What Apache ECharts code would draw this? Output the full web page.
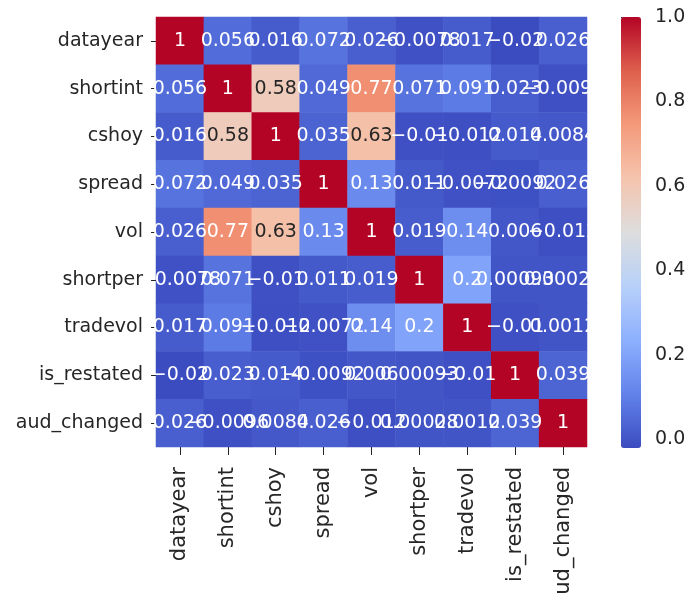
<!DOCTYPE html>
<html>
<head>
<meta charset="utf-8">
<script src="https://cdn.jsdelivr.net/npm/echarts@6/dist/echarts.min.js"></script>
<style>
  html, body { margin: 0; padding: 0; background: #fff; }
  #chart { width: 688px; height: 596px; }
</style>
</head>
<body>
<div id="chart"></div>
<script>
var myChart = echarts.init(document.getElementById('chart'));

// variables, in the order of the rows / columns
var names = ['datayear', 'shortint', 'cshoy', 'spread', 'vol', 'shortper', 'tradevol', 'is_restated', 'aud_changed'];

// correlation rows
var rowDatayear   = [1, 0.056, 0.016, 0.072, 0.026, -0.0078, 0.017, -0.02, 0.026];
var rowShortint   = [0.056, 1, 0.58, 0.049, 0.77, 0.071, 0.091, 0.023, -0.0096];
var rowCshoy      = [0.016, 0.58, 1, 0.035, 0.63, -0.01, -0.012, 0.014, 0.0084];
var rowSpread     = [0.072, 0.049, 0.035, 1, 0.13, 0.011, -0.0072, -0.0092, 0.026];
var rowVol        = [0.026, 0.77, 0.63, 0.13, 1, 0.019, 0.14, 0.006, -0.012];
var rowShortper   = [-0.0078, 0.071, -0.01, 0.011, 0.019, 1, 0.2, 0.00093, 0.00028];
var rowTradevol   = [0.017, 0.091, -0.012, -0.0072, 0.14, 0.2, 1, -0.01, 0.0012];
var rowRestated   = [-0.02, 0.023, 0.014, -0.0092, 0.006, 0.00093, -0.01, 1, 0.039];
var rowAudChanged = [0.026, -0.0096, 0.0084, 0.026, -0.012, 0.00028, 0.0012, 0.039, 1];

var rows = [rowDatayear, rowShortint, rowCshoy, rowSpread, rowVol,
            rowShortper, rowTradevol, rowRestated, rowAudChanged];

// colour bar ticks
var barTicks = [0, 0.2, 0.4, 0.6, 0.8, 1.0];
var vMin = -0.02, vMax = 1;

// coolwarm
var coolwarm = ['#3b4cc0', '#6282ea', '#8db0fe', '#b8d0f9', '#dddddd',
                '#f5c4ad', '#f49a7b', '#de604d', '#b40426'];

var font = 'DejaVu Sans';

var data = [];
rows.forEach(function (row, y) {
    row.forEach(function (v, x) {
        data.push({
            value: [x, y, v],
            label: { color: (v > 0.5 && v < 0.7) ? '#262626' : '#ffffff' }
        });
    });
});

var option = {
    backgroundColor: '#ffffff',
    animation: false,
    grid: [
        { left: 156, top: 17, width: 431, height: 430, outerBoundsMode: 'none' },
        { left: 621, top: 17, width: 20, height: 431, outerBoundsMode: 'none' }
    ],
    xAxis: [{
        type: 'category',
        gridIndex: 0,
        data: names,
        position: 'bottom',
        axisLine: { show: false },
        axisTick: { show: true, alignWithLabel: true, length: 8, lineStyle: { color: '#222' } },
        axisLabel: { rotate: 90, interval: 0, fontFamily: font, fontSize: 21, color: '#262626', margin: 20 },
        splitLine: { show: false }
    }, {
        type: 'value',
        gridIndex: 1,
        show: false
    }],
    yAxis: [{
        type: 'category',
        gridIndex: 0,
        data: names,
        inverse: true,
        axisLine: { show: false },
        axisTick: { show: true, alignWithLabel: true, length: 5, lineStyle: { color: '#222' } },
        axisLabel: { interval: 0, fontFamily: font, fontSize: 19, color: '#262626', margin: 13 },
        splitLine: { show: false }
    }, {
        type: 'value',
        gridIndex: 1,
        position: 'right',
        min: vMin,
        max: vMax,
        axisLine: { show: false },
        axisTick: { show: true, length: 5, lineStyle: { color: '#222' }, customValues: barTicks },
        axisLabel: {
            fontFamily: font, fontSize: 19, color: '#262626', margin: 14,
            customValues: barTicks,
            formatter: function (v) { return v.toFixed(1); }
        },
        splitLine: { show: false }
    }],
    visualMap: {
        type: 'continuous',
        min: vMin,
        max: vMax,
        calculable: false,
        seriesIndex: 0,
        orient: 'vertical',
        left: 621,
        top: 17,
        itemWidth: 20,
        itemHeight: 431,
        padding: 0,
        text: null,
        showLabel: false,
        inRange: { color: coolwarm }
    },
    series: [{
        type: 'heatmap',
        xAxisIndex: 0,
        yAxisIndex: 0,
        data: data,
        label: {
            show: true,
            fontFamily: font,
            fontSize: 19,
            formatter: function (p) { return String(p.value[2]).replace('-', '\u2212'); }
        },
        itemStyle: { borderWidth: 0 }
    }]
};
myChart.setOption(option);
</script>
</body>
</html>
